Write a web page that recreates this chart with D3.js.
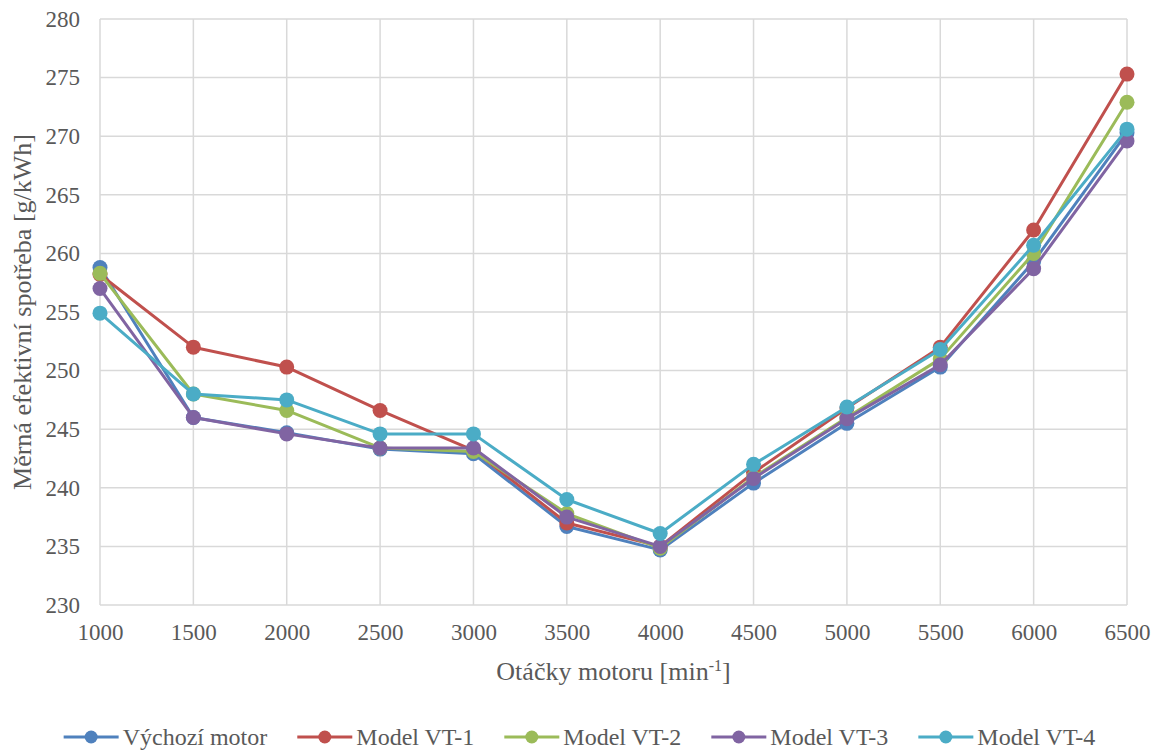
<!DOCTYPE html>
<html>
<head>
<meta charset="utf-8">
<script src="https://cdn.jsdelivr.net/npm/d3@7"></script>
<style>
  body { margin: 0; background: #fff; }
  #chart text { font-family: 'Times New Roman', 'Liberation Serif', Tinos, 'DejaVu Serif', serif !important; fill: #595959; }
</style>
</head>
<body>
<svg id="chart" width="1157" height="751"></svg>
<script>
// Engine speed (min^-1)
const rpm = [1000, 1500, 2000, 2500, 3000, 3500, 4000, 4500, 5000, 5500, 6000, 6500];

// Brake specific fuel consumption [g/kWh] per engine variant
const vychoziMotor = [258.8, 246.0, 244.7, 243.3, 242.9, 236.7, 234.7, 240.4, 245.5, 250.3, 259.3, 270.3];
const modelVT1     = [258.2, 252.0, 250.3, 246.6, 243.2, 237.0, 235.0, 241.3, 246.8, 252.0, 262.0, 275.3];
const modelVT2     = [258.3, 248.0, 246.6, 243.4, 243.1, 237.8, 234.85, 240.9, 246.0, 251.0, 260.0, 272.9];
const modelVT3     = [257.0, 246.0, 244.6, 243.4, 243.4, 237.5, 235.0, 240.8, 245.9, 250.5, 258.7, 269.6];
const modelVT4     = [254.9, 248.0, 247.5, 244.6, 244.6, 239.0, 236.1, 242.0, 246.9, 251.8, 260.7, 270.6];

const seriesNames = ["Výchozí motor", "Model VT-1", "Model VT-2", "Model VT-3", "Model VT-4"];
const seriesValues = [vychoziMotor, modelVT1, modelVT2, modelVT3, modelVT4];
const seriesColors = ["#4F81BD", "#C0504D", "#9BBB59", "#8064A2", "#4BACC6"];

const yTicks = [230, 235, 240, 245, 250, 255, 260, 265, 270, 275, 280];

const FONT = "'Times New Roman', 'Liberation Serif', Tinos, 'DejaVu Serif', serif";

const svg = d3.select("#chart").attr("font-family", FONT);
const plot = { left: 100, right: 1127, top: 19, bottom: 605 };

const x = d3.scaleLinear().domain([1000, 6500]).range([plot.left, plot.right]);
const y = d3.scaleLinear().domain([230, 280]).range([plot.bottom, plot.top]);

// gridlines
const grid = svg.append("g");
grid.selectAll("line.h").data(yTicks).join("line")
  .attr("x1", plot.left).attr("x2", plot.right)
  .attr("y1", d => y(d)).attr("y2", d => y(d))
  .attr("stroke", "#d9d9d9").attr("stroke-width", 1.5);
grid.selectAll("line.v").data(rpm).join("line")
  .attr("y1", plot.top).attr("y2", plot.bottom)
  .attr("x1", d => x(d)).attr("x2", d => x(d))
  .attr("stroke", "#d9d9d9").attr("stroke-width", 1.5);

// axes (labels only)
const yAxis = svg.append("g").attr("transform", `translate(${plot.left},0)`)
  .call(d3.axisLeft(y).tickValues(yTicks).tickSize(0).tickPadding(20));
yAxis.attr("font-family", FONT).attr("font-size", 23);
yAxis.select(".domain").remove();
yAxis.selectAll("text").attr("fill", "#595959");

const xAxis = svg.append("g").attr("transform", `translate(0,${plot.bottom})`)
  .call(d3.axisBottom(x).tickValues(rpm).tickFormat(d3.format("d")).tickSize(0).tickPadding(19));
xAxis.attr("font-family", FONT).attr("font-size", 23);
xAxis.select(".domain").remove();
xAxis.selectAll("text").attr("fill", "#595959");

// axis titles
svg.append("text")
  .attr("transform", `translate(31,${(plot.top + plot.bottom) / 2}) rotate(-90)`)
  .attr("text-anchor", "middle")
  .attr("font-size", 26)
  .text("Měrná efektivní spotřeba [g/kWh]");

const xt = svg.append("text")
  .attr("x", (plot.left + plot.right) / 2).attr("y", 680)
  .attr("text-anchor", "middle")
  .attr("font-size", 26);
xt.append("tspan").text("Otáčky motoru [min");
xt.append("tspan").attr("dy", -9).attr("font-size", 16).text("-1");
xt.append("tspan").attr("dy", 9).text("]");

// series
const line = d3.line().x((d, i) => x(rpm[i])).y(d => y(d));
seriesValues.forEach((vals, s) => {
  const g = svg.append("g");
  g.append("path").datum(vals)
    .attr("d", line).attr("fill", "none")
    .attr("stroke", seriesColors[s]).attr("stroke-width", 3)
    .attr("stroke-linejoin", "round");
  g.selectAll("circle").data(vals).join("circle")
    .attr("cx", (d, i) => x(rpm[i])).attr("cy", d => y(d))
    .attr("r", 7.5).attr("fill", seriesColors[s]);
});

// legend, centred below the plot
const legend = svg.append("g");
const ly = 737, swatch = 55, gapText = 4, gapItem = 30;
const items = seriesNames.map((name, s) => {
  const item = legend.append("g");
  item.append("line").attr("x1", 0).attr("x2", swatch).attr("y1", 0).attr("y2", 0)
    .attr("stroke", seriesColors[s]).attr("stroke-width", 3);
  item.append("circle").attr("cx", swatch / 2).attr("cy", 0).attr("r", 6.5).attr("fill", seriesColors[s]);
  const t = item.append("text").attr("x", swatch + gapText).attr("y", 8).attr("font-size", 24).text(name);
  return { item, w: swatch + gapText + t.node().getComputedTextLength() };
});
const total = d3.sum(items, d => d.w) + gapItem * (items.length - 1);
let lx = 579.5 - total / 2;
items.forEach(d => {
  d.item.attr("transform", `translate(${lx},${ly})`);
  lx += d.w + gapItem;
});
</script>
</body>
</html>
